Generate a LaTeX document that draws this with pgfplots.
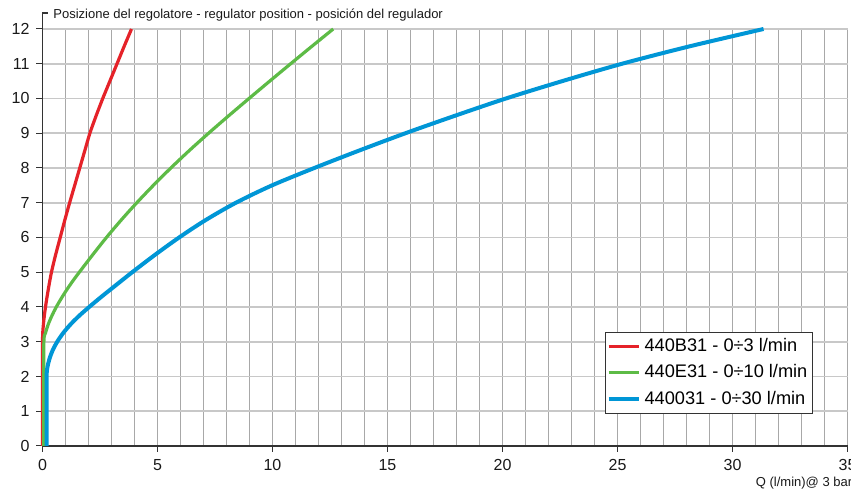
\documentclass[border=0pt]{standalone}
\usepackage{fontspec}
\setmainfont{Liberation Sans}
\usepackage{pgfplots}
\pgfplotsset{compat=1.18}
\definecolor{cred}{HTML}{E52229}
\definecolor{cgreen}{HTML}{5DBB46}
\definecolor{cblue}{HTML}{0096D6}
\definecolor{vgrid}{HTML}{A8A8A8}
\definecolor{hgrid}{HTML}{C8C8C8}
\definecolor{axc}{HTML}{333333}
\begin{document}
\begin{tikzpicture}
\begin{axis}[
  name=ax,
  scale only axis,
  width=402.5pt, height=208.5pt,
  xmin=0, xmax=35, ymin=0, ymax=12,
  axis lines*=left,
  axis line style={-, draw=axc, line width=0.65pt},
  xtick={0,5,...,35}, ytick={0,1,...,12},
  minor xtick={0,1,...,35},
  xmajorgrids, xminorgrids, ymajorgrids,
  major x grid style={vgrid, line width=0.5pt},
  minor x grid style={vgrid, line width=0.5pt},
  major y grid style={hgrid, line width=0.8pt},
  tick align=outside,
  major tick length=3pt,
  minor tick length=0pt,
  tick style={axc, line width=0.5pt},
  /pgf/number format/assume math mode=true,
  ticklabel style={font=\fontsize{8}{9}\selectfont, text=black!90},
  clip=false,
  legend cell align=left,
  legend style={at={(0.957,0.077)}, anchor=south east, draw=axc, line width=0.5pt,
    fill=white, font=\fontsize{9.1}{10}\selectfont, inner xsep=0.5pt, inner ysep=1pt,
    row sep=1.2pt},
  legend image code/.code={\draw[#1] (0pt,0pt) -- (15pt,0pt);},
]
\addplot[cred, line width=1.6pt, smooth] coordinates {
 (0,0) (0,1.5) (0,3) (0.04,3.5) (0.13,4) (0.25,4.5) (0.39,5) (0.57,5.5) (0.77,6) (0.97,6.5) (1.18,7) (1.4,7.5) (1.62,8) (1.84,8.5) (2.06,9) (2.33,9.5) (2.62,10) (2.93,10.5) (3.24,11) (3.55,11.5) (3.87,12)};
\addlegendentry{440B31 - 0÷3 l/min}
\addplot[cgreen, line width=1.6pt, smooth] coordinates {
 (0.05,0) (0.055,1.5) (0.06,3) (0.13,3.25) (0.25,3.5) (0.41,3.75) (0.6,4) (0.82,4.25) (1.06,4.5) (1.32,4.75) (1.6,5) (2.18,5.5) (2.78,6) (3.42,6.5) (4.1,7) (4.82,7.5) (5.58,8) (6.38,8.5) (7.22,9) (8.09,9.5) (8.98,10) (9.88,10.5) (10.79,11) (11.71,11.5) (12.64,12)};
\addlegendentry{440E31 - 0÷10 l/min}
\addplot[cblue, line width=2pt, smooth] coordinates {
 (0.18,0) (0.18,1) (0.18,2) (0.21,2.25) (0.30,2.5) (0.44,2.75) (0.64,3) (0.90,3.25) (1.22,3.5) (1.60,3.75) (2.03,4) (2.48,4.25) (2.95,4.5) (3.90,5) (4.89,5.5) (5.94,6) (7.09,6.5) (8.41,7) (9.98,7.5) (11.82,8) (13.76,8.5) (15.78,9) (17.92,9.5) (20.15,10) (22.6,10.5) (25.2,11) (28.13,11.5) (31.35,12)};
\addlegendentry{440031 - 0÷30 l/min}
\draw[axc, line width=0.65pt] (axis cs:0,12) -- ++(0,8pt) -- ++(2.75pt,0);
\node[anchor=base west, inner sep=0pt, font=\fontsize{6.5}{7}\selectfont, text=black!90]
  at ([xshift=5.25pt, yshift=5pt]axis cs:0,12) {Posizione del regolatore - regulator position - posición del regulador};
\node[anchor=base west, inner sep=0pt, font=\fontsize{6.5}{7}\selectfont, text=black!90]
  at ([yshift=-20.5pt]axis cs:31,0) {Q (l/min)@ 3 bar};
\end{axis}
\pgfresetboundingbox
\path ([xshift=-21.25pt,yshift=-24.5pt]ax.south west) rectangle ([xshift=1.75pt,yshift=14.5pt]ax.north east);
\end{tikzpicture}
\end{document}
